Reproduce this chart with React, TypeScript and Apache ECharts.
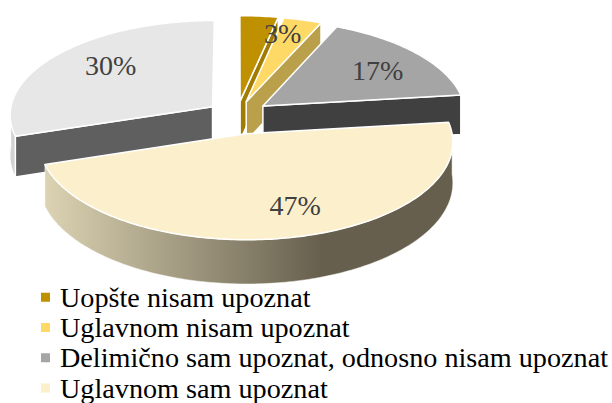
import React, { useEffect, useRef } from "react";
import * as echarts from "echarts";

const categories = [
  "Uopšte nisam upoznat",
  "Uglavnom nisam upoznat",
  "Delimično sam upoznat, odnosno nisam upoznat",
  "Uglavnom sam upoznat",
  "",
];
const values = [3.3, 3.3, 16.5, 46.9, 30];
const showLabel = [false, true, true, true, true];
const topColors = ["#bf9000", "#ffd966", "#a5a5a5", "#fbefcc", "#e7e7e7"];
const cutColors = ["#a27c00", "#baa04a", "#404040", "#665f4d", "#5f5f5f"];
const drawOrder = [2, 3, 4, 5, 1];
const labelRadius = [0.7, 0.79, 0.7, 0.745, 0.685];
const labelAngleShift = [0, -3.5, 4, -5, 3.6];
const explodeFactor = [0.15, 0.15, 0.16, 0.2, 0.15];

const CX = 237, CY = 115, R = 203, Q = 0.465, P = 0.08, H = 40;
const total = values.reduce((a, b) => a + b, 0);
const deg = Math.PI / 180;

function project(u: number, v: number, drop = 0): [number, number] {
  const s = 1 / (1 + P * v);
  return [CX + R * u * s, CY - R * Q * v * s + drop * s];
}

function renderSlice(params: any) {
  const i = params.seriesIndex;
  const before = values.slice(0, i).reduce((a, b) => a + b, 0);
  const a0 = (before / total) * 360;
  const a1 = ((before + values[i]) / total) * 360;
  const mid = ((a0 + a1) / 2) * deg;
  const e = explodeFactor[i];
  const ou = e * Math.sin(mid), ov = e * Math.cos(mid);
  const pt = (a: number, r: number, drop = 0) =>
    project(ou + r * Math.sin(a * deg), ov + r * Math.cos(a * deg), drop);
  const arc = (from: number, to: number, drop = 0) => {
    const n = Math.max(2, Math.ceil(Math.abs(to - from)));
    const out: [number, number][] = [];
    for (let k = 0; k <= n; k++) out.push(pt(from + ((to - from) * k) / n, 1, drop));
    return out;
  };
  const children: any[] = [];
  const edge = { stroke: "#ffffff", lineWidth: 1.5, lineJoin: "round" };
  const face = (a: number) => {
    children.push({
      type: "polygon",
      shape: { points: [pt(a, 0), pt(a, 1), pt(a, 1, H), pt(a, 0, H)] },
      style: { fill: cutColors[i], ...edge },
    });
  };
  const s0 = Math.max(a0, 90), s1 = Math.min(a1, 270);
  if (s1 > s0) {
    const fill =
      i === 3
        ? {
            type: "linear", x: 0, y: 0, x2: 1, y2: 0,
            colorStops: [
              { offset: 0, color: "#dcd3b3" },
              { offset: 0.68, color: "#665f4d" },
              { offset: 1, color: "#665f4d" },
            ],
          }
        : "#d2d2d2";
    children.push({
      type: "polygon",
      shape: { points: [...arc(s0, s1), ...arc(s1, s0, H)] },
      style: { fill, stroke: "#ffffff", lineWidth: 0.5 },
    });
  }
  if (a1 < 180) face(a1);
  if (a0 > 180) face(a0);
  children.push({
    type: "polygon",
    shape: { points: [pt(a0, 0), ...arc(a0, a1)] },
    style: { fill: topColors[i], ...edge },
  });
  if (showLabel[i]) {
    const [lx, ly] = pt((a0 + a1) / 2 + labelAngleShift[i], labelRadius[i]);
    children.push({
      type: "text",
      x: lx,
      y: ly - 2,
      style: {
        text: `${Math.round(values[i])}%`,
        fill: "#404040",
        font: '28px "Liberation Serif"',
        align: "center",
        verticalAlign: "middle",
      },
    });
  }
  return { type: "group", children };
}

export default function App() {
  const ref = useRef<HTMLDivElement>(null);
  useEffect(() => {
    const chart = echarts.init(ref.current!, null, { renderer: "svg" });
    chart.setOption({
      animation: false,
      backgroundColor: "#ffffff",
      legend: {
        orient: "vertical",
        left: 41,
        top: 282,
        height: 200,
        padding: 0,
        itemWidth: 14,
        itemHeight: 9,
        itemGap: 0,
        icon: "path://M0 0H9V9H0Z M14 0L14 9",
        data: categories.slice(0, 4),
        textStyle: {
          fontFamily: "Liberation Serif",
          fontSize: 28.2,
          color: "#000000",
          lineHeight: 30.3,
          height: 30.3,
        },
      },
      series: categories.map((name, i) => ({
        type: "custom",
        name: name || "Ostalo",
        coordinateSystem: "none",
        z: drawOrder[i],
        silent: true,
        itemStyle: { color: topColors[i], borderWidth: 0 },
        data: [[values[i]]],
        renderItem: renderSlice,
      })),
    });
    return () => chart.dispose();
  }, []);
  return <div ref={ref} style={{ position: "absolute", left: 0, top: 0, width: 612, height: 403, overflow: "hidden" }} />;
}
